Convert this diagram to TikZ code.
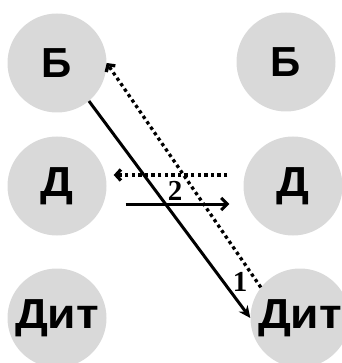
\documentclass[tikz,border=0pt]{standalone}
\usepackage{fontspec}
\setmainfont{Liberation Sans}
\newfontfamily\labfont{Liberation Serif}
\usetikzlibrary{arrows.meta}
\definecolor{circgray}{RGB}{217,217,217}
\newcommand{\widetxt}[1]{\scalebox{1.1}[1]{#1}}
\begin{document}
\begin{tikzpicture}[x=1pt,y=-1pt,
  circ/.style={circle,fill=circgray,minimum size=99pt,inner sep=0pt,
    font=\fontsize{42}{42}\selectfont\bfseries},
  solidarrow/.style={line width=3pt,-{Stealth[length=12pt,width=11pt]}},
  openarrow/.style={line width=3pt,-{Straight Barb[length=6pt,width=12pt]}},
  dotarrow/.style={line width=3.3pt,dash pattern=on 3.3pt off 3.3pt,
    -{Straight Barb[length=5pt,width=11pt]}},
  numlab/.style={font=\labfont\fontsize{29}{29}\selectfont\bfseries,inner sep=0pt}]
\useasboundingbox (0,0) rectangle (341,363);
\node[circ] (lb) at (57,63) {Б};
\node[circ] (rb) at (286,62) {Б};
\node[circ] (ld) at (57,186) {\widetxt{Д}};
\node[circ] (rd) at (293,186) {\widetxt{Д}};
\node[circ] (ldit) at (57,318) {\widetxt{Дит}};
\node[circ] (rdit) at (300,318) {\widetxt{Дит}};
\draw[solidarrow] (lb.-50) -- (rdit.180);
\draw[dotarrow] (rdit.142) -- (lb.east);
\draw[dotarrow,shorten <=16pt,shorten >=7pt] ([yshift=11pt]rd.west) -- ([yshift=11pt]ld.east);
\draw[openarrow,shorten <=19pt,shorten >=14pt] ([yshift=-18pt]ld.east) -- ([yshift=-18pt]rd.west);
\node[numlab] (two) at (175,191) {2};
\node[numlab] (one) at (240,282) {1};
\end{tikzpicture}
\end{document}
